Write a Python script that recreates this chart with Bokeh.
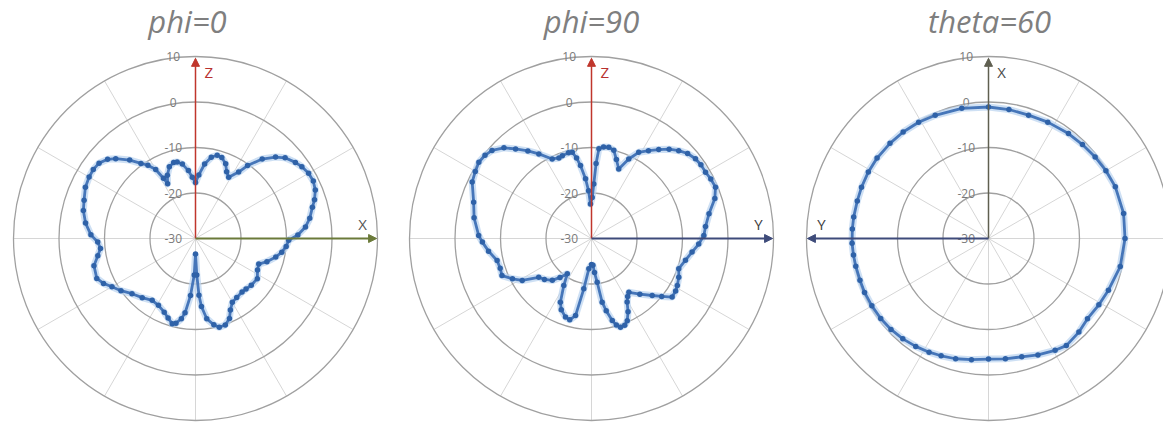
import math
from bokeh.plotting import figure
from bokeh.models import Range1d, Arrow, NormalHead
from bokeh.core.properties import value
from bokeh.embed import file_html
from bokeh.resources import INLINE

# ---------------- data ----------------
titles = ["phi=0", "phi=90", "theta=60"]
ring_values = [-20, -10, 0, 10]
tick_values = [10, 0, -10, -20, -30]
tick_labels = ["10", "0", "-10", "-20", "-30"]
spoke_angles = [0, 30, 60, 90, 120, 150, 180, 210, 240, 270, 300, 330]
r_min = -30

# phi=0 cut: angle from +Z towards +X (deg), gain (dB)
phi0_angle = [-180, -178, -175, -172, -170, -167, -164.7, -161, -157, -151, -145, -138,
              -131, -125, -120, -116, -112, -105, -100, -96, -92, -88, -82, -76, -71,
              -65, -60, -56, -52, -48, -45, -40, -36, -33, -30, -28, -27, -24, -20, -16,
              -13.5, -10, -6, -3, 0, 3, 7, 11, 14.6, 18, 22, 25, 28.5, 33, 35.5, 40, 44.5,
              48, 52.7, 56, 60, 64, 68, 72, 75, 80, 84, 88, 91, 95, 99, 103, 108, 112,
              117, 123, 130, 135, 139, 145, 150, 154, 157, 161, 165, 168, 172, 175,
              176.5, 178]
phi0_db = [-26.6, -22.0, -17.4, -13.5, -12.1, -10.9, -10.6, -11.5, -12.4, -13.2, -13.4, -12.5,
           -11.5, -10.0, -8.8, -7.5, -6.6, -6.9, -8.2, -9.0, -8.5, -7.0, -5.6, -4.6, -4.1,
           -3.3, -3.0, -2.9, -3.1, -4.0, -5.2, -7.5, -9.6, -10.8, -12.5, -15.0, -16.5, -14.8,
           -13.2, -12.6, -12.7, -13.4, -15.0, -16.5, -17.7, -16.0, -13.5, -11.8, -11.1, -11.3,
           -12.3, -13.8, -14.7, -12.6, -10.3, -7.2, -4.9, -3.5, -2.4, -1.8, -1.3, -1.2, -1.6,
           -2.5, -3.4, -4.5, -5.7, -7.5, -9.5, -10.0, -10.8, -11.9, -13.5, -15.0, -14.7,
           -13.8, -14.0, -14.3, -14.4, -14.2, -13.8, -12.5, -10.9, -9.9, -9.8, -10.6, -12.2,
           -15.0, -17.5, -22.0]

# phi=90 cut: angle from +Z towards +Y (deg), gain (dB)
phi90_angle = [-180, -175, -171.3, -168.3, -165, -161.7, -157, -154, -149.5, -145.5, -141,
               -136.9, -131, -126.3, -121.2, -117, -112.5, -108, -103.1, -97, -91.9, -88.5,
               -80, -72.9, -64.7, -60, -55.9, -52, -48.5, -44, -40.3, -36, -31.9, -26.3, -22,
               -19.4, -15, -12.6, -10.5, -8.6, -5.7, -3.5, -1.7, 1, 2.4, 3.5, 4.7, 7.5, 10.7,
               14.2, 17.5, 21.4, 25.1, 28.7, 33, 37.1, 41, 44.8, 48.5, 52.5, 56, 59.8, 63.5,
               67.5, 72, 78.1, 84, 88.5, 93, 97.7, 103, 109.1, 114, 118.7, 122, 126, 129.5,
               133.2, 139, 145.2, 148, 150.7, 153.5, 156.5, 159, 161.9, 164, 165.8, 168.5,
               170.5, 172.6, 175, 177]
phi90_db = [-24.3, -23.3, -18.8, -12.7, -11.5, -11.8, -13.0, -14.4, -18.0, -20.6, -19.0,
            -17.4, -16.3, -15.6, -12.2, -10.5, -8.7, -8.9, -8.7, -7.2, -6.0, -5.2,
            -3.8, -2.9, -1.0, -0.5, -0.1, -0.3, -0.8, -2.3, -4.2, -6.2, -8.1, -10.5, -10.9,
            -10.7, -10.5, -10.6, -12.0, -13.8, -16.8, -19.5, -22.4, -21.0, -18.0, -13.5, -10.2,
            -9.7, -9.6, -10.0, -11.8, -13.6, -10.7, -8.4, -7.0, -5.5, -4.0, -2.8, -1.8, -1.2,
            -1.0, -1.0, -0.7, -0.5, -1.5, -3.6, -4.8, -5.3, -6.4, -7.7, -8.8, -9.7, -9.0,
            -8.5, -8.2, -8.1, -10.0, -11.7, -13.8, -15.6, -15.0, -14.0, -12.0, -10.3, -9.6,
            -9.5, -10.2, -11.4, -13.8, -15.8, -20.3, -22.5, -24.1]

# theta=60 cut: angle from +X towards +Y (deg), gain (dB)
theta60_angle = [-180, -172, -164.3, -157, -149.2, -144, -136, -129, -121, -113.3, -102, -90,
                 -79.5, -67.8, -60, -52.6, -45, -37.3, -27, -18, -9, 0, 11.6, 23.4, 31,
                 38.7, 46, 54.2, 61, 68, 74, 80.9, 86, 92, 97, 101.8, 108, 113.5, 120,
                 126.6, 133, 139.5, 146, 152.4, 158, 164.7, 172]
theta60_db = [-3.5, -3.3, -3.0, -2.2, -1.4, -0.9, -1.4, -2.0, -1.7, -1.3, -0.4, 0.0,
              0.2, 0.1, -0.2, -0.5, -0.8, -1.0, -1.3, -1.5, -1.3, -1.1, -0.8, -0.5, -0.2,
              0.0, 0.1, 0.2, 0.2, 0.1, 0.0, 0.0, 0.0, 0.0, -0.1, -0.2, -0.3, -0.3, -0.4,
              -0.5, -0.7, -1.0, -1.4, -1.8, -2.2, -2.6, -3.1]

# ---------------- layout ----------------
W, H = 1163, 425
PX = 4.55                      # pixels per dB of radius
centers_px = [(195, 238), (591, 238), (988, 238)]
title_x_px = [187, 591, 989]
vertical_axis = [("Z", "#c0362c", "#b8312f"), ("Z", "#c0362c", "#b8312f"), ("X", "#5f5f50", "#4a4a4a")]
horizontal_axis = [("X", "#6b7a3a", "#555555", 1), ("Y", "#3e4b7a", "#404040", 1),
                   ("Y", "#3e4b7a", "#404040", -1)]
series = [(phi0_angle, phi0_db), (phi90_angle, phi90_db), (theta60_angle, theta60_db)]


def to_data(sx, sy):
    return sx / PX, -sy / PX


p = figure(width=W, height=H, output_backend="svg", toolbar_location=None,
           x_range=Range1d(0, W / PX), y_range=Range1d(-H / PX, 0),
           min_border=0, outline_line_color=None)
p.axis.visible = False
p.grid.visible = False
p.background_fill_color = "white"
p.border_fill_color = "white"

R_OUT = max(ring_values) - r_min

for k in range(3):
    cx, cy = to_data(*centers_px[k])
    hdir = horizontal_axis[k][3]

    # spokes
    xs0, ys0, xs1, ys1 = [], [], [], []
    for a in spoke_angles:
        t = math.radians(a)
        xs0.append(cx); ys0.append(cy)
        xs1.append(cx + R_OUT * math.sin(t)); ys1.append(cy + R_OUT * math.cos(t))
    p.segment(xs0, ys0, xs1, ys1, line_color="#d6d6d6", line_width=1)

    # rings
    p.circle(x=[cx] * len(ring_values), y=[cy] * len(ring_values),
             radius=[v - r_min for v in ring_values], fill_color=None,
             line_color="#a0a0a0", line_width=1.3)

    # tick labels
    p.text(x=[cx - 4.9] * len(tick_values), y=[cy + (v - r_min) for v in tick_values],
           text=tick_labels, text_font=value("Open Sans"), text_font_size="12px",
           text_color="#7a7a7a", text_align="center", text_baseline="middle")

    # axes arrows
    vname, vline, vtext = vertical_axis[k]
    p.add_layout(Arrow(end=NormalHead(size=8, fill_color=vline, line_color=vline),
                       x_start=cx, y_start=cy, x_end=cx, y_end=cy + R_OUT - 0.4,
                       line_color=vline, line_width=1.5))
    p.text(x=[cx + 2.9], y=[cy + 36.5], text=[vname], text_font=value("Open Sans"),
           text_font_size="15px", text_color=vtext, text_align="center",
           text_baseline="middle")
    hname, hline, htext, _ = horizontal_axis[k]
    p.add_layout(Arrow(end=NormalHead(size=8, fill_color=hline, line_color=hline),
                       x_start=cx, y_start=cy, x_end=cx + hdir * (R_OUT - 0.2), y_end=cy,
                       line_color=hline, line_width=1.8))
    p.text(x=[cx + hdir * 36.7], y=[cy + 3.2], text=[hname], text_font=value("Open Sans"),
           text_font_size="15px", text_color=htext, text_align="center",
           text_baseline="middle")

    # pattern
    ang, db = series[k]
    xs, ys = [], []
    for a, d in zip(ang, db):
        r = max(d - r_min, 0)
        t = math.radians(a)
        xs.append(cx + hdir * r * math.sin(t))
        ys.append(cy + r * math.cos(t))
    lx, ly = xs + xs[:1], ys + ys[:1]
    p.line(lx, ly, line_color="#b9d3ef", line_width=7, line_alpha=0.7, line_join="round")
    p.line(lx, ly, line_color="#4676b9", line_width=2.8, line_join="round")
    p.scatter(xs, ys, marker="circle", size=5.5, fill_color="#2f62a8", line_color=None)

    # title
    tx, ty = to_data(title_x_px[k], 20)
    p.text(x=[tx], y=[ty], text=[titles[k]], text_font=value("Open Sans"),
           text_font_style="italic", text_font_size="31px", text_color="#7f7f7f",
           text_align="center", text_baseline="middle")

open("out.html", "w").write(file_html(p, INLINE))
